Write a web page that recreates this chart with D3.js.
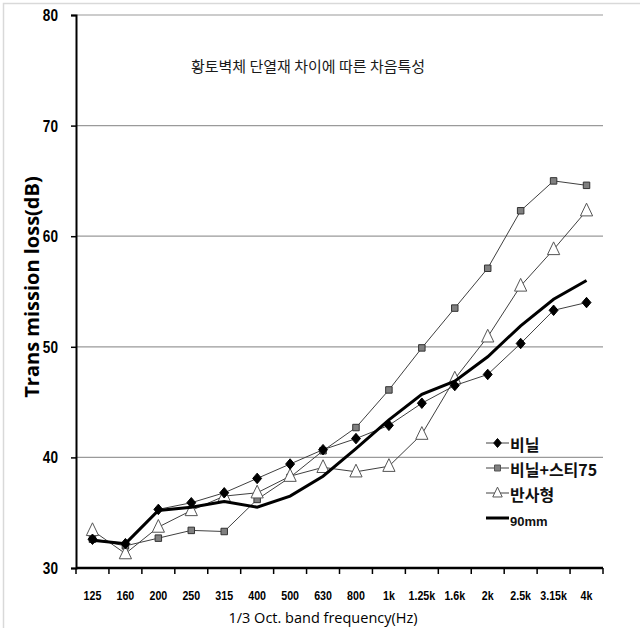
<!DOCTYPE html>
<html><head><meta charset="utf-8">
<script src="https://cdn.jsdelivr.net/npm/d3@7"></script>
<style>body{margin:0;background:#fff}svg{display:block}</style>
</head><body>
<svg id="c" width="640" height="628"></svg>
<script>
const categories = ["125","160","200","250","315","400","500","630","800","1k","1.25k","1.6k","2k","2.5k","3.15k","4k"];
const vinyl      = [32.6,32.2,35.3,35.9,36.8,38.1,39.4,40.7,41.7,42.9,44.9,46.5,47.5,50.3,53.3,54.0];
const vinylSty75 = [32.6,32.0,32.7,33.4,33.3,36.2,38.2,40.6,42.7,46.1,49.9,53.5,57.1,62.3,65.0,64.6];
const reflective = [33.4,31.3,33.7,35.2,36.5,36.8,38.3,39.1,38.7,39.2,42.1,47.1,50.9,55.5,58.8,62.3];
const mm90       = [32.5,32.2,35.2,35.5,36.0,35.5,36.5,38.3,40.8,43.4,45.7,46.9,49.1,51.9,54.3,56.0];
const yTicks = [30,40,50,60,70,80];
const seriesNames = ["비닐","비닐+스티75","반사형","90mm"];
const title = "황토벽체 단열재 차이에 따른 차음특성";
const yTitle = "Trans mission loss(dB)";
const xTitle = "1/3 Oct. band  frequency(Hz)";

const svg = d3.select("#c");
const L = 76, R = 603, T = 15, B = 568;
const x = d3.scaleBand().domain(categories).range([L, R]);
const y = d3.scaleLinear().domain([30, 80]).range([B, T]);
const font = "Liberation Sans, Arial";
function condense(sel, k){
  sel.each(function(){ const w = this.getComputedTextLength(); this.setAttribute("textLength", w*k); this.setAttribute("lengthAdjust","spacingAndGlyphs"); });
}

// outer border
svg.append("rect").attr("x",3.5).attr("y",3.5).attr("width",700).attr("height",700)
  .attr("fill","none").attr("stroke","#d9d9d9").attr("stroke-width",1.5);

// gridlines
svg.append("g").selectAll("line").data(yTicks.filter(d=>d>30)).join("line")
  .attr("x1",L).attr("x2",R).attr("y1",d=>y(d)).attr("y2",d=>y(d))
  .attr("stroke","#9a9a9a").attr("stroke-width",1.2);

// y axis
const ya = svg.append("g").attr("transform",`translate(${L},0)`)
  .call(d3.axisLeft(y).tickValues(yTicks).tickSize(5).tickPadding(13).tickFormat(d3.format("d")));
ya.select(".domain").attr("stroke","#000").attr("stroke-width",2);
ya.selectAll(".tick line").attr("stroke","#000").attr("stroke-width",1.5);
ya.selectAll("text").attr("font-family",font).attr("font-weight","bold")
  .attr("font-size",17).attr("fill","#000").call(condense, 0.8);

// x axis
const xa = svg.append("g").attr("transform",`translate(0,${B})`)
  .call(d3.axisBottom(x).tickSize(0).tickPadding(23));
xa.select(".domain").attr("stroke","#000").attr("stroke-width",2.5).attr("d",`M${L},0H${R}`);
xa.selectAll("text").attr("font-family",font).attr("font-weight","bold")
  .attr("font-size",13).attr("fill","#000").call(condense, 0.82);
// band-boundary ticks
const bounds = categories.map(c=>x(c)).concat([x(categories[categories.length-1])+x.bandwidth()]);
xa.append("g").selectAll("line").data(bounds).join("line")
  .attr("x1",d=>d).attr("x2",d=>d).attr("y1",0).attr("y2",6)
  .attr("stroke","#000").attr("stroke-width",1.5);

const cx = c => x(c) + x.bandwidth()/2;

// title
svg.append("text").attr("x",308).attr("y",72).attr("text-anchor","middle")
  .attr("font-family","Noto Sans CJK KR").attr("font-size",15).attr("fill","#1a1a1a").text(title);

// y title
svg.append("text").attr("transform","translate(39,287) rotate(-90)").attr("text-anchor","middle")
  .attr("font-family","Open Sans, Liberation Sans").attr("font-weight","bold").attr("font-size",20)
  .attr("fill","#000").text(yTitle);

// x title
svg.append("text").attr("x",323).attr("y",623).attr("text-anchor","middle")
  .attr("font-family","Open Sans, Liberation Sans").attr("font-size",14.5).attr("fill","#000").text(xTitle);

const line = d3.line().x((d,i)=>cx(categories[i])).y(d=>y(d));

function thinSeries(vals, sym, size, fill, stroke){
  const g = svg.append("g");
  g.append("path").datum(vals).attr("d",line).attr("fill","none").attr("stroke","#404040").attr("stroke-width",1);
  g.selectAll("path.m").data(vals).join("path").attr("class","m")
    .attr("transform",(d,i)=>`translate(${cx(categories[i])},${y(d)})`)
    .attr("d",d3.symbol().type(sym).size(size)).attr("fill",fill).attr("stroke",stroke).attr("stroke-width",1);
}
const tri = {draw(ctx,size){const s=Math.sqrt(size);ctx.moveTo(0,-s*0.62);ctx.lineTo(s*0.5,s*0.42);ctx.lineTo(-s*0.5,s*0.42);ctx.closePath();}};
const dia = {draw(ctx,size){const s=Math.sqrt(size)/2;ctx.moveTo(0,-s);ctx.lineTo(s*0.85,0);ctx.lineTo(0,s);ctx.lineTo(-s*0.85,0);ctx.closePath();}};

thinSeries(vinylSty75, d3.symbolSquare, 42, "#808080", "#333");
thinSeries(reflective, tri, 150, "#fff", "#555");
thinSeries(vinyl, dia, 110, "#000", "#000");
svg.append("path").datum(mm90).attr("d",line).attr("fill","none").attr("stroke","#000").attr("stroke-width",3);

// legend
const lg = svg.append("g");
const ly = [445,470,495,520];
const lsym = [dia, d3.symbolSquare, tri, null];
const lsize = [80, 36, 90, 0];
const lfill = ["#000","#808080","#fff",null];
seriesNames.forEach((n,i)=>{
  const yy = ly[i] - 2;
  lg.append("line").attr("x1",486).attr("x2",509).attr("y1",yy).attr("y2",yy)
    .attr("stroke", i===3 ? "#000" : "#404040").attr("stroke-width", i===3 ? 3 : 1);
  if (lsym[i]) lg.append("path").attr("transform",`translate(497.5,${yy})`)
    .attr("d",d3.symbol().type(lsym[i]).size(lsize[i])).attr("fill",lfill[i]).attr("stroke",i===0?"#000":"#555");
  lg.append("text").attr("x",510).attr("y",ly[i]+6).attr("font-family", i===3?"Liberation Sans, Arial":"Noto Sans CJK KR")
    .attr("font-weight","bold").attr("font-size", i===3?13:16).attr("fill","#111").text(n);
});
</script>
</body></html>
